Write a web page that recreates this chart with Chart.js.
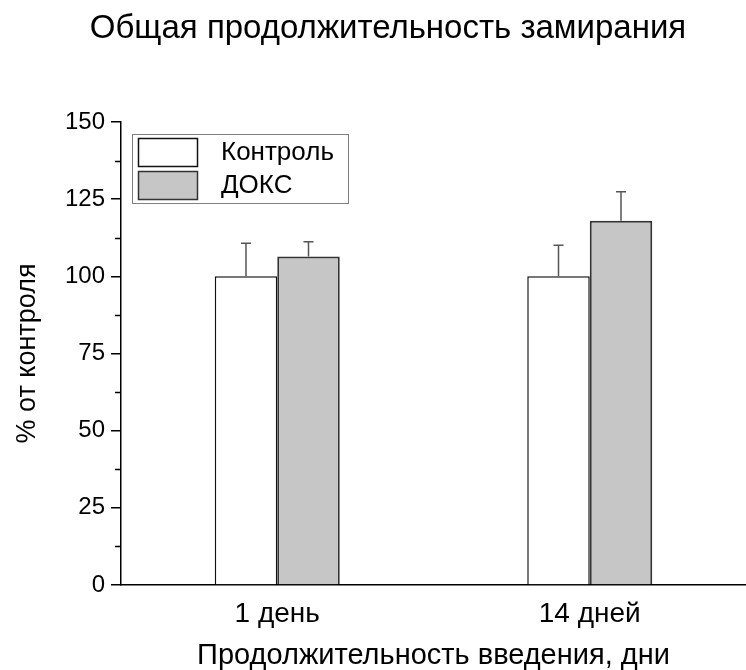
<!DOCTYPE html>
<html lang="ru">
<head>
<meta charset="utf-8">
<title>Общая продолжительность замирания</title>
<script src="https://cdn.jsdelivr.net/npm/chart.js@4.4.1/dist/chart.umd.min.js"></script>
<style>
  html, body { margin: 0; padding: 0; background: #fff; }
  #wrap { width: 746px; height: 670px; }
</style>
</head>
<body>
<div id="wrap"><canvas id="freezeChart"></canvas></div>
<script>
// --- data ---
const chartTitle = 'Общая продолжительность замирания';
const categories = ['1 день', '14 дней'];
const seriesNames = ['Контроль', 'ДОКС'];
const controlMeans = [100, 100];
const controlErrors = [10.7, 10.1];
const doxMeans = [106.4, 118.0];
const doxErrors = [4.8, 9.4];
const yTicks = [0, 25, 50, 75, 100, 125, 150];

const FONT = "'Liberation Sans', Arial, sans-serif";
Chart.defaults.font.family = FONT;
Chart.defaults.color = '#000';

// heading, a little right of the canvas centre
const heading = {
    id: 'heading',
    afterDraw(chart) {
        const { ctx } = chart;
        ctx.save();
        ctx.font = '33px ' + FONT;
        ctx.fillStyle = '#000';
        ctx.textAlign = 'center';
        ctx.textBaseline = 'alphabetic';
        ctx.fillText(chartTitle, chart.width / 2 + 15, 38);
        ctx.restore();
    }
};

// upward-only error bars with a short cap
const errorBars = {
    id: 'errorBars',
    afterDatasetsDraw(chart) {
        const { ctx, scales: { y } } = chart;
        ctx.save();
        ctx.strokeStyle = '#555';
        ctx.lineWidth = 1.5;
        chart.data.datasets.forEach((ds, i) => {
            chart.getDatasetMeta(i).data.forEach((bar, j) => {
                const top = y.getPixelForValue(ds.data[j] + ds.errors[j]);
                ctx.beginPath();
                ctx.moveTo(bar.x, bar.y);
                ctx.lineTo(bar.x, top);
                ctx.moveTo(bar.x - 5, top);
                ctx.lineTo(bar.x + 5, top);
                ctx.stroke();
            });
        });
        ctx.restore();
    }
};

// short minor ticks halfway between the labelled ones
const minorTicks = {
    id: 'minorTicks',
    afterDraw(chart) {
        const { ctx, scales: { y } } = chart;
        ctx.save();
        ctx.strokeStyle = '#000';
        ctx.lineWidth = 1.5;
        for (let k = 0; k < yTicks.length - 1; k++) {
            const py = Math.round(y.getPixelForValue((yTicks[k] + yTicks[k + 1]) / 2)) + 0.5;
            ctx.beginPath();
            ctx.moveTo(y.right - 6, py);
            ctx.lineTo(y.right, py);
            ctx.stroke();
        }
        ctx.restore();
    }
};

// boxed legend in the top-left corner of the plot
const boxLegend = {
    id: 'boxLegend',
    afterDraw(chart) {
        const { ctx, chartArea: area } = chart;
        const x0 = area.left + 11, y0 = area.top + 12;
        ctx.save();
        ctx.fillStyle = '#fff';
        ctx.fillRect(x0, y0, 216, 69);
        ctx.strokeStyle = '#808080';
        ctx.lineWidth = 1;
        ctx.strokeRect(x0 + 0.5, y0 + 0.5, 216, 69);
        ctx.font = '26px ' + FONT;
        ctx.textBaseline = 'middle';
        chart.data.datasets.forEach((ds, i) => {
            const sy = y0 + 4 + i * 33;
            ctx.fillStyle = ds.backgroundColor;
            ctx.fillRect(x0 + 6, sy, 60, 29);
            ctx.strokeStyle = ds.borderColor;
            ctx.lineWidth = 1.5;
            ctx.strokeRect(x0 + 6.5, sy + 0.5, 59, 28);
            ctx.fillStyle = '#000';
            ctx.fillText(ds.label, x0 + 89, sy + 15);
        });
        ctx.restore();
    }
};

const ctx = document.getElementById('freezeChart').getContext('2d');
const freezeChart = new Chart(ctx, {
    type: 'bar',
    data: {
        labels: categories,
        datasets: [{
            label: seriesNames[0],
            data: controlMeans,
            errors: controlErrors,
            backgroundColor: '#ffffff',
            borderColor: '#111111',
            borderWidth: 1.5
        }, {
            label: seriesNames[1],
            data: doxMeans,
            errors: doxErrors,
            backgroundColor: '#c6c6c6',
            borderColor: '#333333',
            borderWidth: 2
        }]
    },
    options: {
        responsive: true,
        maintainAspectRatio: false,
        animation: false,
        categoryPercentage: 0.4,
        barPercentage: 1,
        layout: { padding: { top: 122, left: 0, right: 0, bottom: 0 } },
        plugins: {
            legend: { display: false },
            tooltip: { enabled: false },
            title: { display: false }
        },
        scales: {
            x: {
                grid: { display: false },
                border: { display: true, color: '#000', width: 1.5 },
                ticks: { font: { size: 28 }, color: '#000', padding: 4 },
                title: {
                    display: true,
                    text: 'Продолжительность введения, дни',
                    color: '#000',
                    font: { size: 29, lineHeight: 1 },
                    padding: 0
                },
                afterFit: (scale) => { scale.height = 85; }
            },
            y: {
                min: 0,
                max: 150,
                afterBuildTicks: (scale) => { scale.ticks = yTicks.map(v => ({ value: v })); },
                grid: {
                    drawOnChartArea: false,
                    drawTicks: true,
                    tickLength: 10,
                    color: '#000',
                    lineWidth: 1.5
                },
                border: { display: true, color: '#000', width: 1.5 },
                ticks: { font: { size: 24 }, color: '#000', padding: 6 },
                title: {
                    display: true,
                    text: '% от контроля',
                    color: '#000',
                    font: { size: 27, lineHeight: 1 },
                    padding: { top: 14 }
                },
                afterFit: (scale) => { scale.width = 121; }
            }
        }
    },
    plugins: [errorBars, minorTicks, boxLegend, heading]
});
</script>
</body>
</html>
